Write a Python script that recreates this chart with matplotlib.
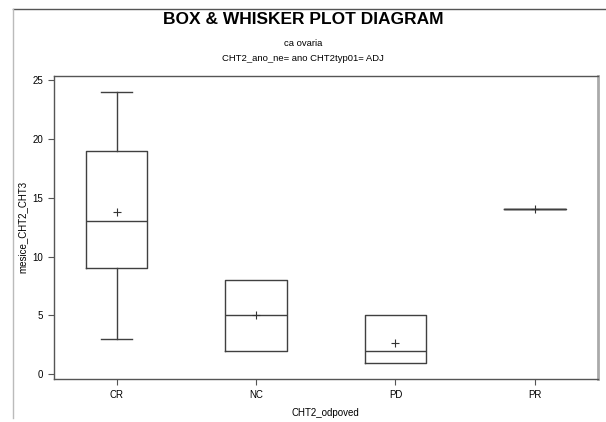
import matplotlib
matplotlib.use("Agg")
import matplotlib.pyplot as plt
from matplotlib.lines import Line2D

plt.rcParams['font.family'] = ['Liberation Sans', 'DejaVu Sans']

# Summary statistics per response group
groups = ["CR", "NC", "PD", "PR"]
whisker_low = [3, 2, 1, 14]
q1 = [9, 2, 1, 14]
median = [13, 5, 2, 14]
q3 = [19, 8, 5, 14]
whisker_high = [24, 8, 5, 14]
mean = [13.8, 5.0, 2.67, 14.0]

y_ticks = [0, 5, 10, 15, 20, 25]

line_col = "#404040"

fig = plt.figure(figsize=(6.06, 4.22), dpi=100)
ax = fig.add_axes([0.0891, 0.103, 0.897, 0.7176])

stats = []
caps = []
for i, g in enumerate(groups):
    stats.append(dict(label=g, whislo=whisker_low[i], q1=q1[i], med=median[i],
                      q3=q3[i], whishi=whisker_high[i], mean=mean[i], fliers=[]))
    # groups whose whiskers collapse onto the box get no caps
    has_whisker = whisker_low[i] < q1[i] or whisker_high[i] > q3[i]
    caps.append(0.22 if has_whisker else 0.0)

ax.bxp(stats, positions=range(len(groups)), widths=0.44, showmeans=True,
       showfliers=False, capwidths=caps,
       boxprops=dict(color=line_col, linewidth=1.0),
       medianprops=dict(color=line_col, linewidth=1.0),
       whiskerprops=dict(color=line_col, linewidth=1.0),
       capprops=dict(color=line_col, linewidth=1.0),
       meanprops=dict(marker="+", markeredgecolor="#333333", markersize=6,
                      markeredgewidth=0.8))

ax.set_xlim(-0.45, 3.45)
ax.set_ylim(-0.35, 25.35)
ax.set_yticks(y_ticks)
ax.set_yticklabels([str(t) for t in y_ticks])

ax.tick_params(axis="both", direction="out", length=4, width=0.8,
               color="#555555", labelsize=7, labelcolor="black", pad=4)
for s in ("left", "bottom", "top"):
    ax.spines[s].set_color("#555555")
    ax.spines[s].set_linewidth(1.0)
ax.spines["right"].set_color("#aaaaaa")
ax.spines["right"].set_linewidth(2.0)

ax.set_xlabel("CHT2_odpoved", fontsize=7, labelpad=6)
ax.set_ylabel("mesice_CHT2_CHT3", fontsize=7, labelpad=3)

# Titles
fig.text(0.5, 0.953, "BOX & WHISKER PLOT DIAGRAM", ha="center", va="center",
         fontsize=12.5, fontweight="bold")
fig.text(0.5, 0.898, "ca ovaria", ha="center", va="center", fontsize=6.8)
fig.text(0.5, 0.862, "CHT2_ano_ne= ano CHT2typ01= ADJ", ha="center",
         va="center", fontsize=6.8)

# Page frame lines
fig.add_artist(Line2D([0.0215, 1.0], [0.979, 0.979], transform=fig.transFigure,
                      color="#555555", linewidth=1.0))
fig.add_artist(Line2D([0.0215, 0.0215], [0.979, 0.01], transform=fig.transFigure,
                      color="#bbbbbb", linewidth=1.0))

fig.savefig("out.png", dpi=100)
